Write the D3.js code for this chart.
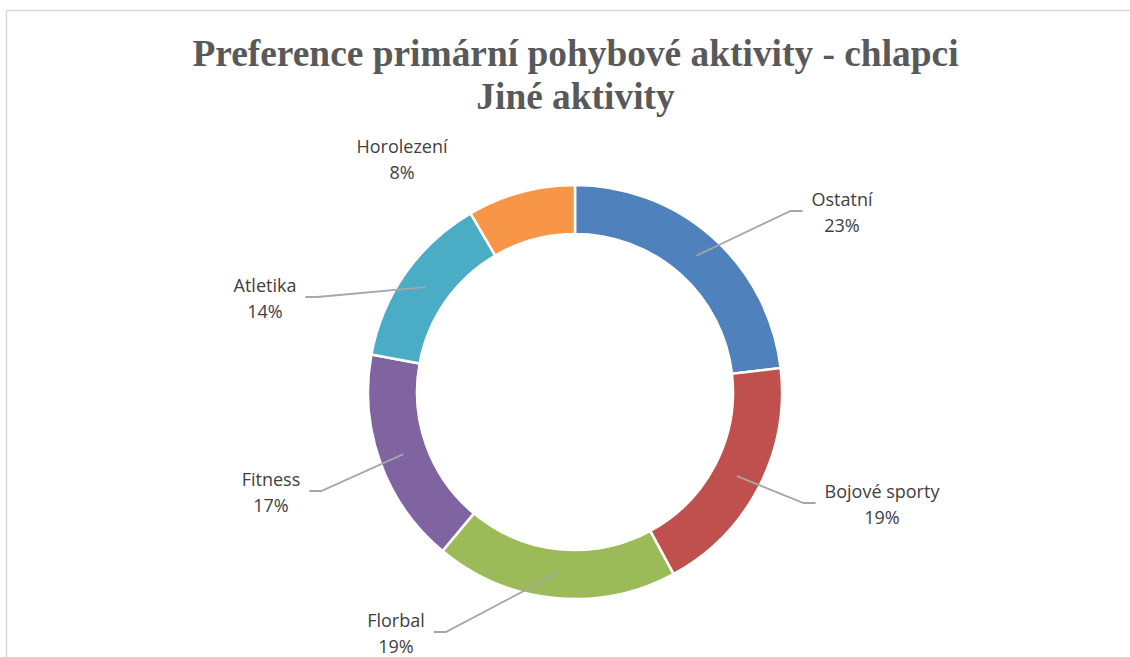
<!DOCTYPE html>
<html><head><meta charset="utf-8">
<script src="https://cdn.jsdelivr.net/npm/d3@7"></script>
<style>
html,body{margin:0;padding:0;background:#fff;}
svg{display:block;}
</style></head>
<body>
<script>
// ---- data ----
const categories = ["Ostatní", "Bojové sporty", "Florbal", "Fitness", "Atletika", "Horolezení"];
const counts = [22, 18, 18, 16, 13, 8];
const colors = ["#4F81BD", "#C0504D", "#9BBB59", "#8064A2", "#4BACC6", "#F79646"];
const titleLines = ["Preference primární pohybové aktivity - chlapci", "Jiné aktivity"];
// ---- label layout (center x, first-line baseline y, leader side) ----
const labelX = [842, 882, 396, 271, 265, 402];
const labelY = [206, 498, 627, 486, 292, 153];
const leaderSide = ["left", "left", "right", "right", "right", null];

const W = 1130, H = 657;
const cx = 575, cy = 392, rOuter = 207, rInner = 158;

const svg = d3.select("body").append("svg").attr("width", W).attr("height", H);

// frame
svg.append("path").attr("d", `M6.5,${H} V10.5 H${W}`).attr("fill", "none")
  .attr("stroke", "#d9d9d9").attr("stroke-width", 1.5);

// title
const title = svg.append("text").attr("text-anchor", "middle")
  .attr("font-family", "'Liberation Serif','Times New Roman',serif")
  .attr("font-weight", "bold").attr("font-size", 37.4).attr("fill", "#595959");
titleLines.forEach((t, i) => title.append("tspan").attr("x", 575.5).attr("y", 66 + i * 43).text(t));

const total = d3.sum(counts);
const pie = d3.pie().sort(null).value(d => d)(counts);
const arc = d3.arc().innerRadius(rInner).outerRadius(rOuter);
const mid = d3.arc().innerRadius((rInner + rOuter) / 2).outerRadius((rInner + rOuter) / 2);

const g = svg.append("g").attr("transform", `translate(${cx},${cy})`);
g.selectAll("path").data(pie).join("path")
  .attr("d", arc).attr("fill", (d, i) => colors[i])
  .attr("stroke", "#fff").attr("stroke-width", 2.5);

// labels
const lab = svg.append("g").attr("font-family", "'Open Sans','Noto Sans',sans-serif")
  .attr("font-size", 18).attr("fill", "#404040").attr("text-anchor", "middle");
pie.forEach((d, i) => {
  const t = lab.append("text");
  t.append("tspan").attr("x", labelX[i]).attr("y", labelY[i]).text(categories[i]);
  t.append("tspan").attr("x", labelX[i]).attr("y", labelY[i] + 26)
    .text(Math.round(counts[i] / total * 100) + "%");
  if (leaderSide[i]) {
    const bb = t.node().getBBox();
    const ly = labelY[i] + 5;
    const endX = leaderSide[i] === "left" ? bb.x - 9 : bb.x + bb.width + 9;
    const bendX = leaderSide[i] === "left" ? endX - 12 : endX + 12;
    const c = mid.centroid(d);
    svg.append("polyline")
      .attr("points", `${cx + c[0]},${cy + c[1]} ${bendX},${ly} ${endX},${ly}`)
      .attr("fill", "none").attr("stroke", "#a6a6a6").attr("stroke-width", 1.8);
  }
});
</script>
</body></html>
